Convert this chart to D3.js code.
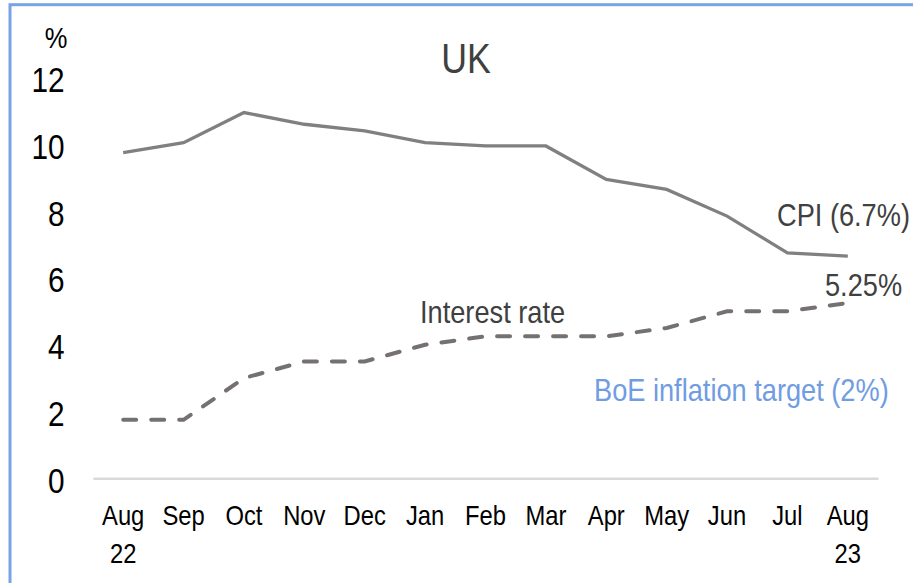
<!DOCTYPE html>
<html lang="en">
<head>
<meta charset="UTF-8">
<title>UK</title>
<script src="https://cdn.jsdelivr.net/npm/d3@7"></script>
<style>
  body { margin: 0; background: #fff; }
  svg { display: block; font-family: "Liberation Sans", Arial, sans-serif; }
</style>
</head>
<body>
<script>
// data
var months = ["Aug","Sep","Oct","Nov","Dec","Jan","Feb","Mar","Apr","May","Jun","Jul","Aug"];
var years = ["22","","","","","","","","","","","","23"];
var cpi = [9.75,10.05,10.95,10.6,10.4,10.05,9.95,9.95,8.95,8.65,7.85,6.75,6.65];
var bankRate = [1.75,1.75,3.0,3.5,3.5,4.0,4.25,4.25,4.25,4.5,5.0,5.0,5.25];
var yTicks = [0,2,4,6,8,10,12];

var width = 913, height = 583;
var SX = 0.85; // text in the original is squeezed sideways

var svg = d3.select("body").append("svg")
    .attr("width", width)
    .attr("height", height);

// blue frame (only top and left edges are visible)
svg.append("rect")
    .attr("x", 10).attr("y", 4.7)
    .attr("width", width).attr("height", height)
    .attr("fill", "none")
    .attr("stroke", "#78a3e6")
    .attr("stroke-width", 3);

var x = d3.scaleBand().domain(d3.range(months.length)).range([93, 878]);
var cx = function(i){ return x(i) + x.bandwidth()/2; };
var y = d3.scaleLinear().domain([0, 12]).range([478.3, 77.5]);

// x axis
var xAxis = svg.append("g")
    .attr("transform", "translate(0," + y(0) + ")")
    .call(d3.axisBottom(x).tickSize(0).tickSizeOuter(0).tickPadding(27)
        .tickFormat(function(i){ return months[i]; }));
xAxis.select(".domain").attr("stroke", "#d9d9d9").attr("stroke-width", 2.5);
xAxis.selectAll("text")
    .attr("font-size", 28)
    .attr("fill", "#000")
    .attr("font-family", null)
    .attr("transform", "scale(" + SX + ",1)")
    .each(function(i){
        if (years[i]) {
            d3.select(this).append("tspan").attr("x", 0).attr("dy", "1.35em").text(years[i]);
        }
    });

// y axis
var yAxis = svg.append("g")
    .attr("transform", "translate(64.5,0)")
    .call(d3.axisLeft(y).tickValues(yTicks).tickSize(0).tickPadding(0));
yAxis.select(".domain").remove();
yAxis.selectAll("text")
    .attr("font-size", 35)
    .attr("fill", "#000")
    .attr("font-family", null)
    .attr("dy", "0.4em")
    .attr("transform", "scale(" + SX + ",1)");

var line = d3.line()
    .x(function(d, i){ return cx(i); })
    .y(function(d){ return y(d); });

svg.append("path")
    .datum(bankRate)
    .attr("d", line)
    .attr("fill", "none")
    .attr("stroke", "#767171")
    .attr("stroke-width", 4)
    .attr("stroke-linecap", "round")
    .attr("stroke-dasharray", "13,15");

svg.append("path")
    .datum(cpi)
    .attr("d", line)
    .attr("fill", "none")
    .attr("stroke", "#808080")
    .attr("stroke-width", 3.3);

function label(px, py, txt, size, color, anchor) {
    svg.append("text")
        .attr("transform", "translate(" + px + "," + py + ") scale(" + SX + ",1)")
        .attr("font-size", size)
        .attr("fill", color)
        .attr("text-anchor", anchor || "start")
        .text(txt);
}

label(56, 48, "%", 30, "#000", "middle");
label(466, 73.3, "UK", 42, "#404040", "middle");
label(420, 323.3, "Interest rate", 32, "#404040");
label(777, 226, "CPI (6.7%)", 32, "#404040");
label(825, 295.7, "5.25%", 32, "#404040");
label(594, 400.7, "BoE inflation target (2%)", 32, "#709ce2");
</script>
</body>
</html>
